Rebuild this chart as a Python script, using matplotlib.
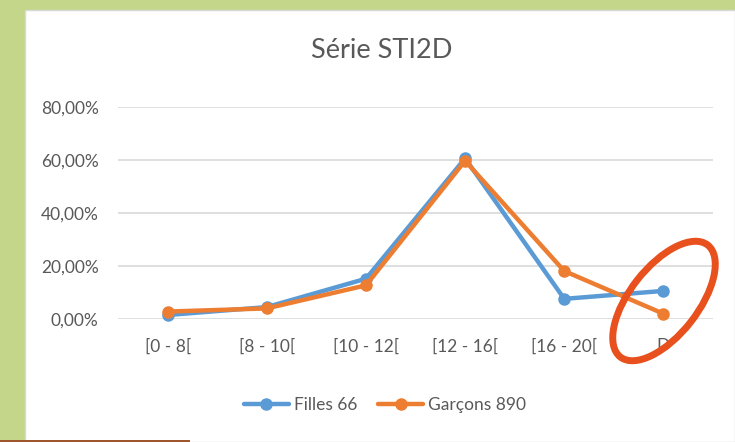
import matplotlib
matplotlib.use("Agg")
import matplotlib.pyplot as plt
from matplotlib.patches import Rectangle, Ellipse
from matplotlib.ticker import FuncFormatter

categories = ["[0 - 8[", "[8 - 10[", "[10 - 12[", "[12 - 16[", "[16 - 20[", "D"]
filles = [0.015, 0.045, 0.152, 0.606, 0.076, 0.106]
garcons = [0.028, 0.040, 0.127, 0.597, 0.181, 0.020]
series_names = ["Filles 66", "Garçons 890"]
title = "Série STI2D"

W, H = 735, 442
fig = plt.figure(figsize=(W / 100, H / 100), dpi=100)
fig.patch.set_facecolor("#c3d68a")

# white chart panel
fig.patches.append(Rectangle((25 / W, 0), (W - 25) / W, (H - 10) / H,
                             transform=fig.transFigure, facecolor="white",
                             edgecolor="#d8d8d8", linewidth=1.0, zorder=-2))
# brown line at bottom left
fig.patches.append(Rectangle((0, 0), 190 / W, 2 / H, transform=fig.transFigure,
                             facecolor="#a0562c", edgecolor="none", zorder=-1))

font = ["Lato", "DejaVu Sans"]
gray = "#595959"

ax = fig.add_axes([118 / W, (H - 319) / H, (713 - 118) / W, (319 - 107) / H])
ax.set_facecolor("none")
x = list(range(len(categories)))
ax.plot(x, filles, color="#5b9bd5", lw=3.2, marker="o", ms=8, label=series_names[0],
        solid_capstyle="round", zorder=3, clip_on=False)
ax.plot(x, garcons, color="#ed7d31", lw=3.2, marker="o", ms=8, label=series_names[1],
        solid_capstyle="round", zorder=4, clip_on=False)

ax.set_xlim(-0.5, len(categories) - 0.5)
ax.set_ylim(0, 0.8)
ax.set_yticks([0, 0.2, 0.4, 0.6, 0.8])
ax.yaxis.set_major_formatter(FuncFormatter(lambda v, p: f"{v*100:.2f}%".replace(".", ",")))
ax.set_xticks(x)
ax.set_xticklabels(categories)
ax.grid(axis="y", color="#d9d9d9", lw=1.2)
ax.set_axisbelow(True)
for s in ax.spines.values():
    s.set_visible(False)
ax.tick_params(length=0, colors=gray, labelsize=12.5)
ax.tick_params(axis="x", pad=14)
ax.tick_params(axis="y", pad=14)
for lab in ax.get_xticklabels() + ax.get_yticklabels():
    lab.set_family(font)
    lab.set_color(gray)

fig.text(382 / W, 1 - 51 / H, title, ha="center", va="center", fontsize=19.5,
         color=gray, family=font)

leg = fig.legend(loc="center", bbox_to_anchor=(385 / W, 1 - 405 / H), ncol=2,
                 frameon=False, prop={"family": font, "size": 12.5},
                 handlelength=2.6, columnspacing=1.2, handletextpad=0.3)
for t in leg.get_texts():
    t.set_color(gray)

# red annotation ellipse (in inches, to keep its shape)
fig.patches.append(Ellipse((6.64, (H - 301) / 100), 0.68, 1.42, angle=-38,
                           transform=fig.dpi_scale_trans, facecolor="none",
                           edgecolor="#e8501e", linewidth=5, zorder=10))

fig.savefig("out.png", dpi=100, facecolor=fig.get_facecolor())
